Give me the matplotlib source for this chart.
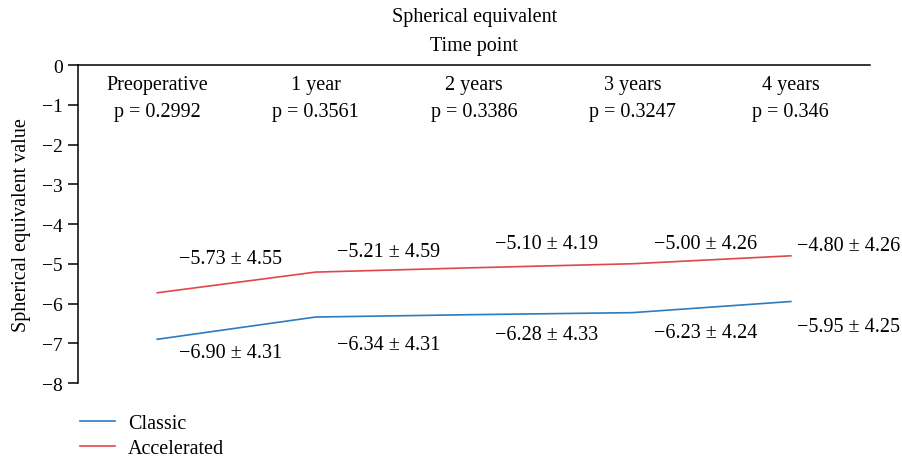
import numpy as np
import matplotlib
matplotlib.use('Agg')
import matplotlib.pyplot as plt

plt.rcParams['font.family'] = ['Liberation Serif', 'DejaVu Serif']
plt.rcParams['axes.unicode_minus'] = True

timepoints = ["Preoperative", "1 year", "2 years", "3 years", "4 years"]
p_values = ["p = 0.2992", "p = 0.3561", "p = 0.3386", "p = 0.3247", "p = 0.346"]
classic_mean = [-6.90, -6.34, -6.28, -6.23, -5.95]
classic_sd = [4.31, 4.31, 4.33, 4.24, 4.25]
accel_mean = [-5.73, -5.21, -5.10, -5.00, -4.80]
accel_sd = [4.55, 4.59, 4.19, 4.26, 4.26]

blue = '#2b7bbf'
red = '#e0474a'

fig = plt.figure(figsize=(9.03, 4.60), dpi=100)
ax = fig.add_axes([0.0864, 0.1652, 0.8771, 0.6913])

x = np.arange(len(timepoints))
ax.plot(x, classic_mean, color=blue, lw=1.2, label='Classic')
ax.plot(x, accel_mean, color=red, lw=1.2, label='Accelerated')

fs = 14.5
# header labels inside the axes
for i in range(len(timepoints)):
    ax.text(x[i], -0.5, timepoints[i], ha='center', va='center', fontsize=fs)
    ax.text(x[i], -1.18, p_values[i], ha='center', va='center', fontsize=fs)

# value labels
acc_y = [-4.88, -4.70, -4.48, -4.50, -4.55]
cls_y = [-7.22, -7.02, -6.77, -6.74, -6.57]
for i in range(len(timepoints)):
    if i < 4:
        xl, ha = x[i] + 0.46, 'center'
    else:
        xl, ha = x[i] + 0.04, 'left'
    ax.text(xl, acc_y[i], f"\u2212{abs(accel_mean[i]):.2f} \u00b1 {accel_sd[i]:.2f}",
            ha=ha, va='center', fontsize=fs)
    ax.text(xl, cls_y[i], f"\u2212{abs(classic_mean[i]):.2f} \u00b1 {classic_sd[i]:.2f}",
            ha=ha, va='center', fontsize=fs)

ax.set_xlim(-0.5, 4.5)
ax.set_ylim(-8, 0)
ax.set_yticks(np.arange(0, -9, -1))
ax.set_xticks([])
ax.tick_params(axis='y', labelsize=14, length=7, width=1.1, pad=4)
ax.spines['right'].set_visible(False)
ax.spines['bottom'].set_visible(False)
ax.spines['top'].set_linewidth(1.1)
ax.spines['left'].set_linewidth(1.1)
ax.set_ylabel("Spherical equivalent value", fontsize=fs, labelpad=8)

fig.text(0.525, 0.961, "Spherical equivalent", ha='center', va='center', fontsize=fs)
fig.text(0.525, 0.898, "Time point", ha='center', va='center', fontsize=fs)

ax.legend(loc='upper left', bbox_to_anchor=(0.002, -0.097), frameon=False,
          fontsize=fs, handlelength=1.75, handletextpad=0.65, labelspacing=0.28,
          borderaxespad=0, borderpad=0)

fig.savefig('out.png', dpi=100)
